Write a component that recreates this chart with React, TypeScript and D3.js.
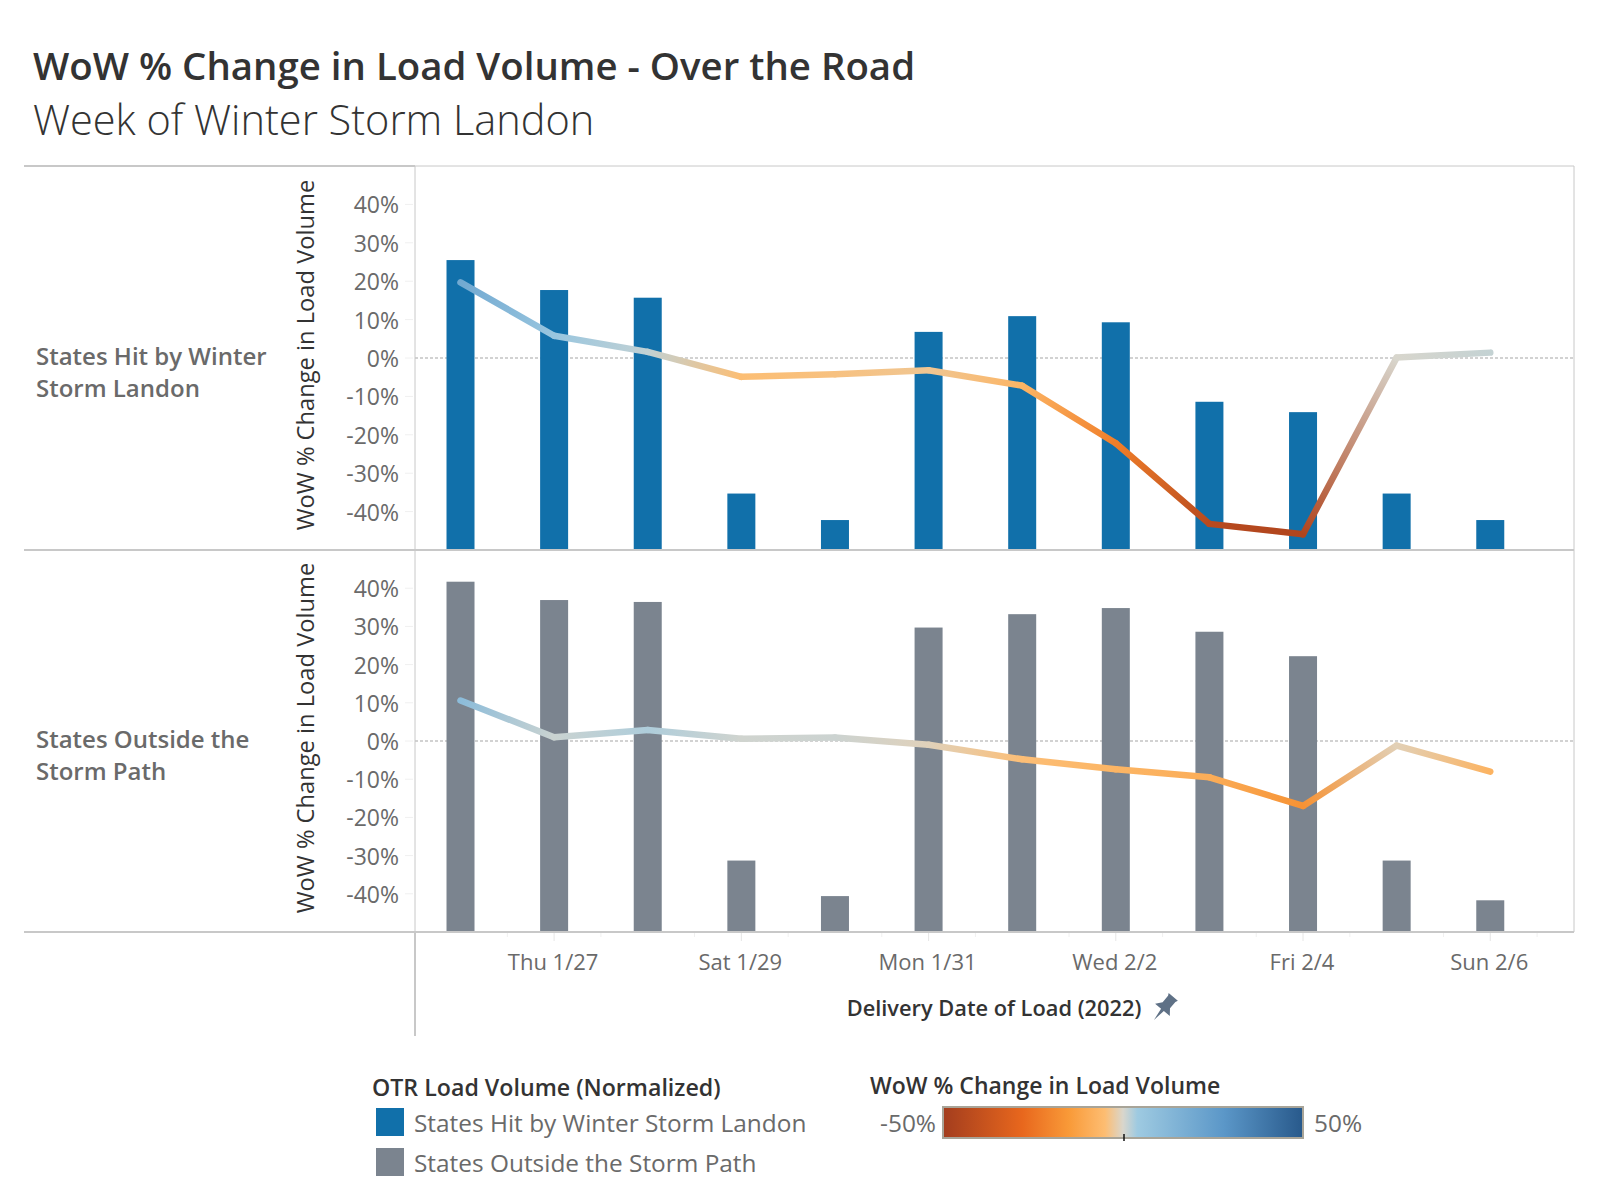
// App.tsx
import React, { useEffect, useRef } from 'react';
import * as d3 from 'd3';

const dates = ['2022-01-26', '2022-01-27', '2022-01-28', '2022-01-29', '2022-01-30', '2022-01-31', '2022-02-01', '2022-02-02', '2022-02-03', '2022-02-04', '2022-02-05', '2022-02-06'];

// normalized volume, share of the panel height
const hitVolume = [75.5, 67.7, 65.7, 14.7, 7.8, 56.8, 60.9, 59.3, 38.6, 35.9, 14.7, 7.8];
const outsideVolume = [91.7, 86.9, 86.4, 18.7, 9.4, 79.7, 83.2, 84.8, 78.6, 72.2, 18.7, 8.3];

// WoW % change
const hitChange = [19.7, 5.8, 1.6, -4.9, -4.2, -3.2, -7.2, -22.2, -43.2, -45.9, 0.1, 1.4];
const outsideChange = [10.6, 1, 2.9, 0.6, 0.9, -1, -4.8, -7.4, -9.5, -17, -1.2, -8];

const yTicks = [40, 30, 20, 10, 0, -10, -20, -30, -40];
const xTicks = ['2022-01-27', '2022-01-29', '2022-01-31', '2022-02-02', '2022-02-04', '2022-02-06'];
const xTickLabels = ['Thu 1/27', 'Sat 1/29', 'Mon 1/31', 'Wed 2/2', 'Fri 2/4', 'Sun 2/6'];

const colorStops = [-50, -28, -15, -5, 0, 4, 28, 50];
const colorRange = ['#a33d1e', '#e8671d', '#f99a38', '#fdbd72', '#d9d6cc', '#9ecae1', '#5b97c8', '#28598b'];

const FONT = '"Open Sans", sans-serif';

const App: React.FC = () => {
    const svgRef = useRef<SVGSVGElement | null>(null);

    useEffect(() => {
        const svg = d3.select(svgRef.current);
        svg.selectAll('*').remove();

        const left = 415;
        const right = 1574;
        const color = d3.scaleLinear<string>().domain(colorStops).range(colorRange);
        const parsed = dates.map(d => new Date(d + 'T00:00:00Z'));

        const x = d3.scaleUtc()
            .domain([new Date('2022-01-25T12:20:00Z'), new Date('2022-02-06T21:28:00Z')])
            .range([left, right]);

        const defs = svg.append('defs');

        const text = (tx: number, ty: number, s: string, size: number, fill: string, anchor = 'start', weight = 400) =>
            svg.append('text')
                .attr('x', tx)
                .attr('y', ty)
                .attr('dy', '0.35em')
                .attr('text-anchor', anchor)
                .attr('font-family', FONT)
                .attr('font-size', size)
                .attr('font-weight', weight)
                .attr('fill', fill)
                .text(s);

        // Title
        svg.append('text').attr('x', 33).attr('y', 80).attr('font-family', FONT).attr('font-size', 38.4)
            .attr('font-weight', 600).attr('fill', '#333333').text('WoW % Change in Load Volume - Over the Road');
        svg.append('text').attr('x', 33).attr('y', 135).attr('font-family', FONT).attr('font-size', 41.5)
            .attr('font-weight', 300).attr('fill', '#333333').text('Week of Winter Storm Landon');

        const drawPanel = (
            name: string,
            top: number,
            bottom: number,
            label: string[],
            volume: number[],
            change: number[],
            barColor: string,
        ) => {
            const y = d3.scaleLinear().domain([-50, 50]).range([bottom, top]);
            const yVol = d3.scaleLinear().domain([0, 100]).range([bottom, top]);

            // tick stubs
            svg.append('g').selectAll('line').data(yTicks).enter().append('line')
                .attr('x1', left - 10).attr('x2', left - 2)
                .attr('y1', d => y(d)).attr('y2', d => y(d))
                .attr('stroke', '#f0f0f0').attr('stroke-width', 1);

            svg.append('g').selectAll('text').data(yTicks).enter().append('text')
                .attr('x', 399).attr('y', d => y(d) + 1).attr('dy', '0.35em')
                .attr('text-anchor', 'end').attr('font-family', FONT).attr('font-size', 23)
                .attr('fill', '#6a6a6a').text(d => `${d}%`);

            // zero line
            svg.append('line').attr('x1', left).attr('x2', right).attr('y1', y(0)).attr('y2', y(0))
                .attr('stroke', '#c4c4c4').attr('stroke-width', 1.5).attr('stroke-dasharray', '3 2');

            // bars
            svg.append('g').selectAll('rect').data(volume).enter().append('rect')
                .attr('x', (_, i) => x(parsed[i]) - 14)
                .attr('width', 28)
                .attr('y', d => yVol(d))
                .attr('height', d => bottom - yVol(d))
                .attr('fill', barColor);

            // line, one piece per day so the colour can follow the value
            const lineG = svg.append('g').attr('fill', 'none').attr('stroke-width', 6.5).attr('stroke-linecap', 'round');
            change.slice(0, -1).forEach((v, i) => {
                const next = change[i + 1];
                const id = `${name}-seg-${i}`;
                const x0 = x(parsed[i]);
                const x1 = x(parsed[i + 1]);
                const grad = defs.append('linearGradient').attr('id', id)
                    .attr('gradientUnits', 'userSpaceOnUse')
                    .attr('x1', x0).attr('y1', y(v))
                    .attr('x2', x1).attr('y2', y(next));
                grad.append('stop').attr('offset', 0).attr('stop-color', color(v));
                grad.append('stop').attr('offset', 1).attr('stop-color', color(next));
                lineG.append('path')
                    .attr('d', d3.line<[number, number]>()([[x0, y(v)], [x1, y(next)]]) as string)
                    .attr('stroke', `url(#${id})`);
            });

            // row label and axis title
            label.forEach((s, i) => text(36, (top + bottom) / 2 - 1 + (i * 32), s, 24, '#6a6a6a', 'start', 600));
            svg.append('text')
                .attr('transform', `translate(306,${(top + bottom) / 2 - 3}) rotate(-90)`)
                .attr('dy', '0.35em').attr('text-anchor', 'middle')
                .attr('font-family', FONT).attr('font-size', 23.7).attr('fill', '#333333')
                .text('WoW % Change in Load Volume');
        };

        drawPanel('hit', 166, 550, ['States Hit by Winter', 'Storm Landon'], hitVolume, hitChange, '#1170aa');
        drawPanel('out', 550, 932, ['States Outside the', 'Storm Path'], outsideVolume, outsideChange, '#7b848f');

        // Frame
        const frame = svg.append('g').attr('stroke', '#c8c8c8');
        [166, 550, 932].forEach(fy => {
            frame.append('line').attr('x1', 24).attr('x2', left).attr('y1', fy).attr('y2', fy).attr('stroke-width', 2);
            frame.append('line').attr('x1', left).attr('x2', right).attr('y1', fy).attr('y2', fy).attr('stroke-width', fy === 166 ? 1 : 2);
        });
        frame.append('line').attr('x1', left).attr('x2', left).attr('y1', 166).attr('y2', 932).attr('stroke-width', 1);
        frame.append('line').attr('x1', left).attr('x2', left).attr('y1', 932).attr('y2', 1036).attr('stroke-width', 2);
        frame.append('line').attr('x1', right).attr('x2', right).attr('y1', 166).attr('y2', 932).attr('stroke-width', 1);

        // X axis
        const majors = xTicks.map(d => new Date(d + 'T00:00:00Z'));
        const minors = dates.map(d => new Date(d + 'T12:00:00Z'));
        svg.append('g').selectAll('line').data(minors).enter().append('line')
            .attr('x1', d => x(d)).attr('x2', d => x(d)).attr('y1', 933).attr('y2', 937)
            .attr('stroke', '#f0f0f0');
        svg.append('g').selectAll('line').data(majors).enter().append('line')
            .attr('x1', d => x(d)).attr('x2', d => x(d)).attr('y1', 933).attr('y2', 941)
            .attr('stroke', '#e6e6e6');
        svg.append('g').selectAll('text').data(majors).enter().append('text')
            .attr('x', d => x(d) - 1).attr('y', 962).attr('dy', '0.35em')
            .attr('text-anchor', 'middle').attr('font-family', FONT).attr('font-size', 22)
            .attr('fill', '#6a6a6a').text((_, i) => xTickLabels[i]);

        text(994, 1008, 'Delivery Date of Load (2022)', 21.8, '#333333', 'middle', 600);

        // pin icon
        svg.append('path')
            .attr('transform', 'translate(1164,1008) rotate(40) scale(1.2)')
            .attr('d', 'M-5,-12 L5,-12 L4,-10 L4,-3 L8,2 L1.5,2 L0,13 L-1.5,2 L-8,2 L-4,-3 L-4,-10 Z')
            .attr('fill', '#5f7186');

        // Colour legend (categories)
        text(372, 1088, 'OTR Load Volume (Normalized)', 23.2, '#333333', 'start', 600);
        const swatches = [
            { label: 'States Hit by Winter Storm Landon', fill: '#1170aa', y: 1108 },
            { label: 'States Outside the Storm Path', fill: '#7b848f', y: 1148 },
        ];
        swatches.forEach(s => {
            svg.append('rect').attr('x', 376).attr('y', s.y).attr('width', 28).attr('height', 28).attr('fill', s.fill);
            text(414, s.y + 15, s.label, 24.4, '#6a6a6a');
        });

        // Gradient legend
        text(870, 1086, 'WoW % Change in Load Volume', 23, '#333333', 'start', 600);
        const legendX = d3.scaleLinear().domain([-50, 50]).range([0, 1]);
        const legendGrad = defs.append('linearGradient').attr('id', 'legend-grad');
        colorStops.forEach((v, i) => {
            legendGrad.append('stop').attr('offset', legendX(v)).attr('stop-color', colorRange[i]);
        });
        svg.append('rect').attr('x', 943).attr('y', 1107).attr('width', 360).attr('height', 31)
            .attr('fill', 'url(#legend-grad)').attr('stroke', '#a8a498').attr('stroke-width', 2);
        svg.append('line').attr('x1', 1124).attr('x2', 1124).attr('y1', 1134).attr('y2', 1141).attr('stroke', '#111').attr('stroke-width', 1.5);
        text(936, 1123, '-50%', 24.4, '#6a6a6a', 'end');
        text(1314, 1123, '50%', 24.4, '#6a6a6a');
    }, []);

    return <svg ref={svgRef} width={1600} height={1200} style={{ position: 'absolute', left: 0, top: 0 }}></svg>;
};

export default App;
